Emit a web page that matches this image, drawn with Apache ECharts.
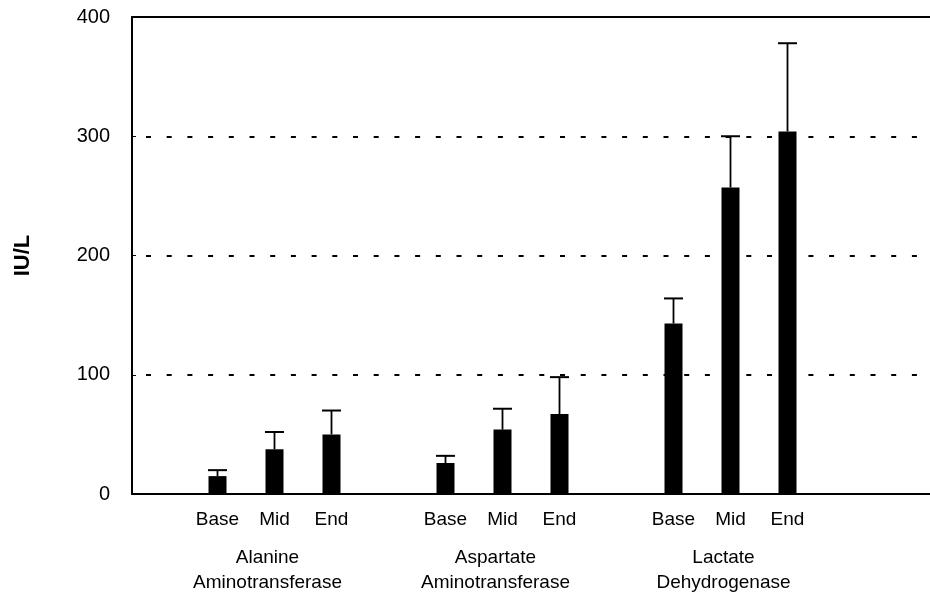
<!DOCTYPE html>
<html>
<head>
<meta charset="utf-8">
<script src="https://cdn.jsdelivr.net/npm/echarts@6/dist/echarts.min.js"></script>
<style>html,body{margin:0;padding:0;background:#fff}#c{width:930px;height:604px}</style>
</head>
<body>
<div id="c"></div>
<script>
// ---- data ----
var groups = ['Alanine\nAminotransferase', 'Aspartate\nAminotransferase', 'Lactate\nDehydrogenase'];
var timepoints = ['Base', 'Mid', 'End'];
var altMean = [15, 37.5, 50];
var altSD   = [5, 14.5, 20];
var astMean = [26, 54, 67];
var astSD   = [6, 17.5, 31];
var ldhMean = [143, 257, 304];
var ldhSD   = [21, 43, 74];
var yTicks = [0, 100, 200, 300, 400];

// ---- build slots: one empty slot before each group, two after ----
var means = [altMean, astMean, ldhMean];
var sds = [altSD, astSD, ldhSD];
var slotIds = [], slotTime = [], slotGroup = [], barData = [], errData = [];
function addEmpty(){ slotIds.push('e' + slotIds.length); slotTime.push(''); slotGroup.push(''); barData.push('-'); }
for (var g = 0; g < groups.length; g++) {
  addEmpty();
  for (var t = 0; t < timepoints.length; t++) {
    var idx = slotIds.length;
    slotIds.push('s' + idx);
    slotTime.push(timepoints[t]);
    slotGroup.push(t === 1 ? groups[g] : '');
    barData.push(means[g][t]);
    errData.push([idx, means[g][t], sds[g][t]]);
  }
}
addEmpty(); addEmpty();

var FONT = '"Liberation Sans", Arial, Helvetica, sans-serif';
var chart = echarts.init(document.getElementById('c'), null, {renderer: 'canvas'});
chart.setOption({
  animation: false,
  backgroundColor: '#fff',
  grid: {left: 132, top: 17, height: 477, width: 805, show: false},
  xAxis: [{
    type: 'category', data: slotIds, position: 'bottom',
    axisLine: {show: true, lineStyle: {color: '#000', width: 2}},
    axisTick: {show: false},
    axisLabel: {interval: 0, color: '#000', fontFamily: FONT, fontSize: 19, lineHeight: 20, margin: 16,
      formatter: function(v, i){ return slotTime[i]; }}
  }, {
    type: 'category', data: slotIds, position: 'bottom',
    axisLine: {show: false}, axisTick: {show: false},
    axisLabel: {interval: 0, color: '#000', fontFamily: FONT, fontSize: 19, lineHeight: 25, margin: 51,
      padding: [0, 14, 0, 0],
      formatter: function(v, i){ return slotGroup[i]; }}
  }, {
    type: 'category', data: slotIds, position: 'top',
    axisLine: {show: true, lineStyle: {color: '#000', width: 2}},
    axisTick: {show: false}, axisLabel: {show: false}
  }],
  yAxis: {
    type: 'value', min: yTicks[0], max: yTicks[yTicks.length - 1], interval: 100,
    name: 'IU/L', nameLocation: 'middle', nameGap: 98, nameRotate: 90,
    nameTextStyle: {color: '#000', fontFamily: FONT, fontSize: 22, fontWeight: 'bold'},
    axisLine: {show: true, lineStyle: {color: '#000', width: 2}},
    axisTick: {show: true, inside: true, length: 4, lineStyle: {color: '#000', width: 1}},
    axisLabel: {color: '#000', fontFamily: FONT, fontSize: 20, margin: 22},
    splitLine: {show: true, lineStyle: {color: '#000', width: 2, type: [5, 15.7], dashOffset: -14}}
  },
  series: [{
    type: 'bar', data: barData, barWidth: 18, xAxisIndex: 0,
    itemStyle: {color: '#000'}
  }, {
    type: 'custom', data: errData, xAxisIndex: 0, z: 3,
    renderItem: function(params, api){
      var x = api.value(0), m = api.value(1), s = api.value(2);
      var b = api.coord([x, m]);
      var t = api.coord([x, m + s]);
      var half = 9.5;
      return {type: 'group', children: [
        {type: 'line', shape: {x1: b[0], y1: b[1], x2: t[0], y2: t[1]}, style: {stroke: '#000', lineWidth: 1.8}},
        {type: 'line', shape: {x1: t[0] - half, y1: t[1], x2: t[0] + half, y2: t[1]}, style: {stroke: '#000', lineWidth: 2}}
      ]};
    }
  }]
});
</script>
</body>
</html>
